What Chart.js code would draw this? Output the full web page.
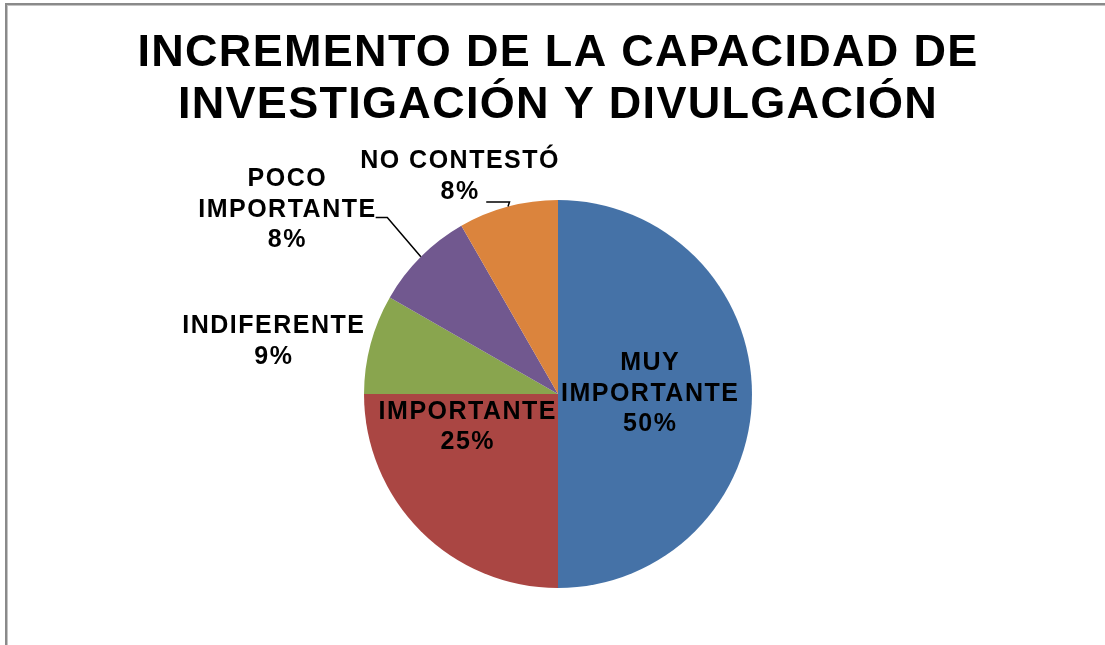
<!DOCTYPE html>
<html>
<head>
<meta charset="utf-8">
<script src="https://cdn.jsdelivr.net/npm/chart.js@4/dist/chart.umd.min.js"></script>
<style>
  html, body { margin: 0; padding: 0; background: #fff; overflow: hidden; }
  #wrap { position: relative; width: 1105px; height: 645px; }
  #frame {
    position: absolute; left: 5px; top: 3px; width: 1200px; height: 700px;
    border-top: 2px solid #8a8a8a; border-left: 2px solid #8a8a8a;
    box-shadow: inset 1px 1px 0 #c4c4c4; pointer-events: none;
  }
  canvas { position: absolute; left: 0; top: 0; }
</style>
</head>
<body>
<div id="wrap">
  <canvas id="chart" width="1105" height="645"></canvas>
  <div id="frame"></div>
</div>
<script>
// data
const titleLines = ['INCREMENTO DE LA CAPACIDAD DE', 'INVESTIGACIÓN Y DIVULGACIÓN'];
const categories = ['MUY IMPORTANTE', 'IMPORTANTE', 'INDIFERENTE', 'POCO IMPORTANTE', 'NO CONTESTÓ'];
const values = [50, 25, 8.3, 8.4, 8.3];
const percentLabels = ['50%', '25%', '9%', '8%', '8%'];
const colors = ['#4572A7', '#AA4643', '#89A54E', '#71588F', '#DB843D'];

// label placement, in units of the pie radius from its centre
const labelPlaces = [
  { x: 0.47, y: 0.0, wrap: true },
  { x: -0.47, y: 0.17, wrap: false },
  { x: -1.47, y: -0.27, wrap: false },
  { x: -1.40, y: -0.95, wrap: true, leader: [{ x: -0.88, y: -0.91 }, { x: -0.94, y: -0.91 }] },
  { x: -0.51, y: -1.12, wrap: false, leader: [{ x: -0.25, y: -0.99 }, { x: -0.37, y: -0.99 }] },
];

// title is drawn before the datasets, so spacing set here only touches it
const titleSpacing = {
  id: 'titleSpacing',
  beforeDraw(chart) { chart.ctx.letterSpacing = '1.3px'; },
  beforeDatasetsDraw(chart) { chart.ctx.letterSpacing = '0px'; },
};

const sliceLabels = {
  id: 'sliceLabels',
  afterDatasetsDraw(chart) {
    const ctx = chart.ctx;
    const arcs = chart.getDatasetMeta(0).data;
    const lineH = 30.5;
    ctx.save();
    ctx.font = 'bold 25px "Liberation Sans", Arial, sans-serif';
    ctx.letterSpacing = '1.5px';
    ctx.fillStyle = '#000';
    ctx.textAlign = 'center';
    ctx.textBaseline = 'middle';
    arcs.forEach((arc, i) => {
      const p = arc.getProps(['x', 'y', 'outerRadius', 'startAngle', 'endAngle'], true);
      const place = labelPlaces[i];
      const lines = (place.wrap ? categories[i].split(' ') : [categories[i]]).concat(percentLabels[i]);
      const lx = p.x + place.x * p.outerRadius;
      const ly = p.y + place.y * p.outerRadius;
      const top = ly - (lines.length - 1) * lineH / 2;
      lines.forEach((t, k) => ctx.fillText(t, lx + 1, top + k * lineH));
      if (place.leader) {
        const mid = (p.startAngle + p.endAngle) / 2;
        ctx.beginPath();
        ctx.moveTo(p.x + Math.cos(mid) * p.outerRadius, p.y + Math.sin(mid) * p.outerRadius);
        place.leader.forEach((q) => ctx.lineTo(p.x + q.x * p.outerRadius, p.y + q.y * p.outerRadius));
        ctx.lineWidth = 1.5;
        ctx.strokeStyle = '#000';
        ctx.stroke();
      }
    });
    ctx.restore();
  },
};

new Chart(document.getElementById('chart'), {
  type: 'pie',
  data: {
    labels: categories,
    datasets: [{
      data: values,
      backgroundColor: colors,
      borderWidth: 0,
    }],
  },
  options: {
    responsive: false,
    animation: false,
    events: [],
    layout: { padding: { top: 0, bottom: 57, left: 11, right: 0 } },
    plugins: {
      legend: { display: false },
      tooltip: { enabled: false },
      title: {
        display: true,
        text: titleLines,
        color: '#000',
        font: { family: '"Liberation Sans", Arial, sans-serif', size: 45, weight: 'bold', lineHeight: 1.156 },
        padding: { top: 28, bottom: 68 },
      },
    },
  },
  plugins: [titleSpacing, sliceLabels],
});
</script>
</body>
</html>
